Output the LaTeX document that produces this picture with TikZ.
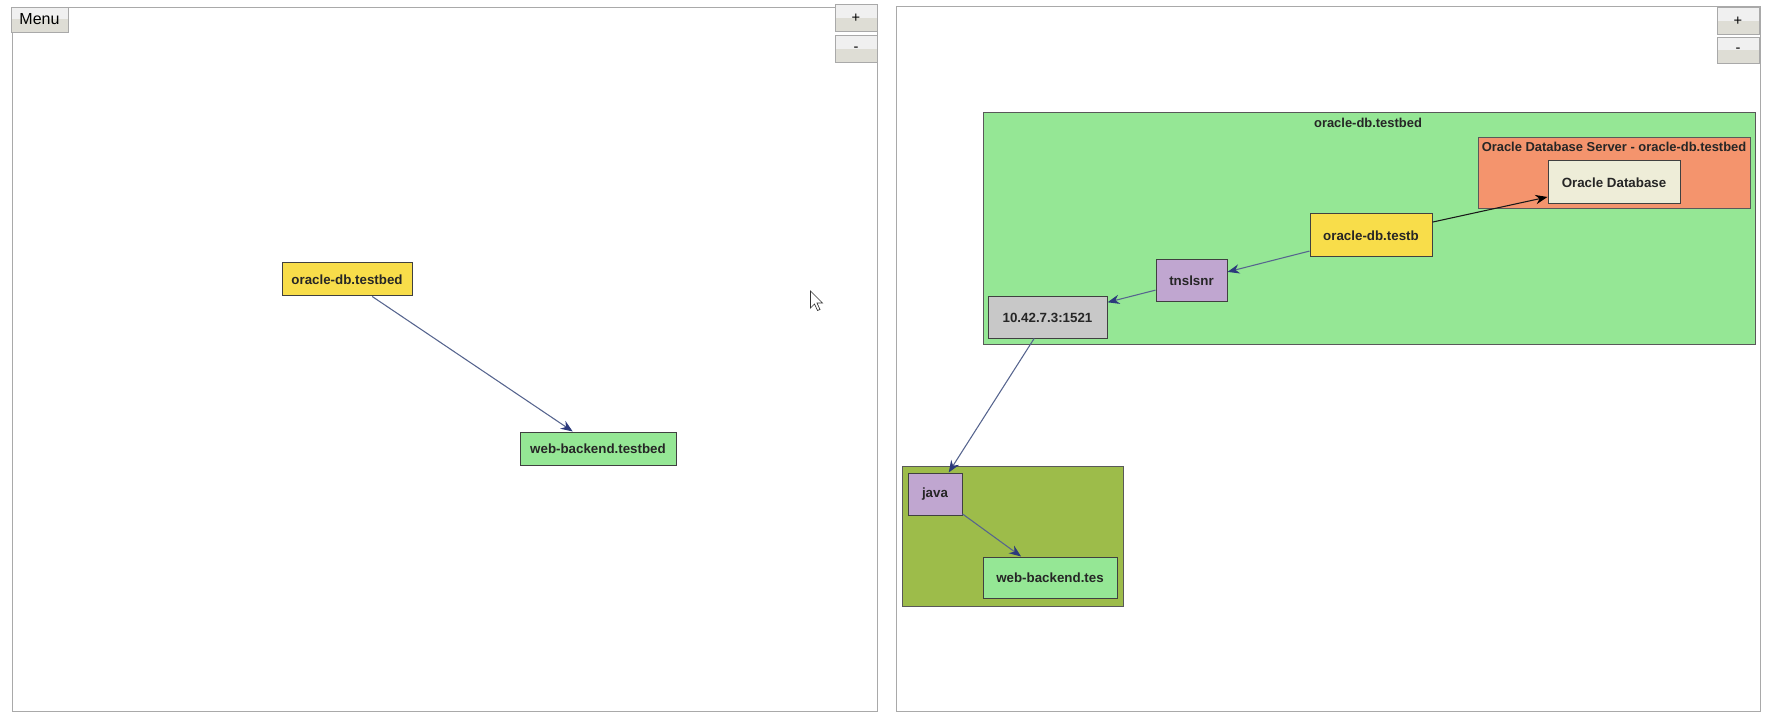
\documentclass[tikz,border=0pt]{standalone}
\usepackage{fontspec}
\setmainfont{Liberation Sans}
\usetikzlibrary{arrows.meta}

\definecolor{hostyellow}{HTML}{F8DD4A}
\definecolor{hostgreen}{HTML}{95E795}
\definecolor{procpurple}{HTML}{C0A6D0}
\definecolor{sockgray}{HTML}{C8C8C8}
\definecolor{appolive}{HTML}{9DBC4A}
\definecolor{srvorange}{HTML}{F4946D}
\definecolor{dbcream}{HTML}{EEEDD8}
\definecolor{linkblue}{HTML}{56648E}
\definecolor{linkdark}{HTML}{2C3A7C}
\definecolor{panelgray}{HTML}{A9A9A9}
\definecolor{btnlow}{HTML}{DEDDD5}

\begin{document}
\begin{tikzpicture}[x=0.75pt, y=-0.75pt, font=\fontsize{10}{12}\selectfont\bfseries,
  hostbox/.style={draw=black!75, line width=0.75pt, inner sep=0pt, text=black!85},
  grpbox/.style={draw=black!65, line width=0.75pt},
  grptitle/.style={inner sep=1pt, text=black!85, font=\fontsize{9.7}{11}\selectfont\bfseries},
  link/.style={draw=linkblue, line width=0.8pt, -{Stealth[length=9pt, width=7pt, color=linkdark]}},
  btn/.style={draw=panelgray, line width=0.6pt, fill=black!6, inner sep=0pt, minimum width=31.5pt, minimum height=20pt, font=\fontsize{11}{12}\selectfont,
    path picture={\fill[btnlow] (path picture bounding box.west) rectangle (path picture bounding box.south east);}}]
\useasboundingbox (0,0) rectangle (1770,720);

% panels
\draw[panelgray, line width=0.6pt] (12,7) rectangle (877,711);
\draw[panelgray, line width=0.6pt] (896,6) rectangle (1760,711);
\node[btn, minimum width=42.75pt, minimum height=18.75pt, font=\fontsize{12}{14}\selectfont] (menu) at (39.5,19.5) {Menu};
\foreach \n/\px/\py in {lplus/856/18, rplus/1738/21} \node[btn] (\n) at (\px,\py) {+};
\foreach \n/\px/\py in {lminus/856/49, rminus/1738/50.5} \node[btn] (\n) at (\px,\py) {-};

% cursor
\draw[black!80, fill=white, line width=0.5pt, shift={(810.5,291)}] (0,0) -- (0,17) -- (4,13) -- (7,19.5) -- (9.5,18.5) -- (6.5,12) -- (12,12) -- cycle;

% left view
\node[hostbox, fill=hostyellow, minimum width=97.5pt, minimum height=24.75pt] (ldb) at (347,279.5) {oracle-db.testbed};
\node[hostbox, fill=hostgreen, minimum width=117pt, minimum height=24.75pt] (lweb) at (598,448.5) {web-backend.testbed};
\draw[link] (ldb) -- (lweb);

% right view, groups
\draw[grpbox, fill=hostgreen] (983,113) rectangle (1755,344);
\node[grptitle] (hosttitle) at (1368,123) {oracle-db.testbed};
\draw[grpbox, fill=srvorange] (1478,138) rectangle (1750,209);
\node[grptitle] (srvtitle) at (1614,147) {Oracle Database Server - oracle-db.testbed};
\draw[grpbox, fill=appolive] (902,466) rectangle (1123,606);

% right view, nodes
\node[hostbox, fill=dbcream, minimum width=99pt, minimum height=32.25pt] (odb) at (1614,182.5) {Oracle Database};
\node[hostbox, fill=hostyellow, minimum width=91.5pt, minimum height=32.25pt] (rdb) at (1371,235.5) {oracle-db.testb};
\node[hostbox, fill=procpurple, minimum width=53.25pt, minimum height=31.5pt] (tns) at (1191.5,281) {tnslsnr};
\node[hostbox, fill=sockgray, minimum width=89.25pt, minimum height=30.75pt] (ip) at (1047.5,317.5) {10.42.7.3:1521};
\node[hostbox, fill=procpurple, minimum width=40.5pt, minimum height=31.5pt] (java) at (935,494) {java};
\node[hostbox, fill=hostgreen, minimum width=100.5pt, minimum height=30.75pt] (rweb) at (1050,577.5) {web-backend.tes};

\draw[link, draw=black!90, -{Stealth[length=9pt, width=7pt, color=black]}] (rdb) -- (odb);
\draw[link] (rdb) -- (tns);
\draw[link] (tns) -- (ip);
\draw[link] (ip) -- (java);
\draw[link] (java) -- (rweb);
\end{tikzpicture}
\end{document}
